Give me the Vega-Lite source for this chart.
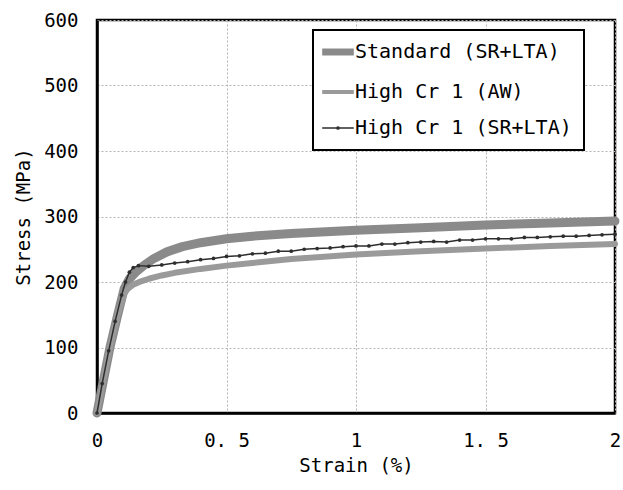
{
  "$schema": "https://vega.github.io/schema/vega-lite/v6.json",
  "width": 518,
  "height": 393,
  "autosize": "none",
  "padding": {"left": 97, "top": 20, "right": 8, "bottom": 77},
  "background": "white",
  "config": {
    "font": "DejaVu Sans Mono",
    "view": {"stroke": "black", "strokeWidth": 2.5},
    "legend": {"strokeWidth": 2},
    "axis": {
      "labelFont": "DejaVu Sans Mono",
      "titleFont": "DejaVu Sans Mono",
      "labelFontSize": 19,
      "titleFontSize": 19,
      "titleFontWeight": "normal",
      "labelColor": "black",
      "titleColor": "black",
      "ticks": false,
      "domainColor": "black",
      "domainWidth": 2.5,
      "gridColor": "#b5b5b5",
      "gridDash": [2, 2],
      "gridWidth": 1
    }
  },
  "data": {
    "values": [
      {"series": "Standard (SR+LTA)", "strain": 0, "stress": 0},
      {"series": "Standard (SR+LTA)", "strain": 0.025, "stress": 50},
      {"series": "Standard (SR+LTA)", "strain": 0.05, "stress": 100},
      {"series": "Standard (SR+LTA)", "strain": 0.08, "stress": 150},
      {"series": "Standard (SR+LTA)", "strain": 0.105, "stress": 190},
      {"series": "Standard (SR+LTA)", "strain": 0.125, "stress": 205},
      {"series": "Standard (SR+LTA)", "strain": 0.15, "stress": 215},
      {"series": "Standard (SR+LTA)", "strain": 0.18, "stress": 225},
      {"series": "Standard (SR+LTA)", "strain": 0.22, "stress": 236},
      {"series": "Standard (SR+LTA)", "strain": 0.27, "stress": 246},
      {"series": "Standard (SR+LTA)", "strain": 0.33, "stress": 254},
      {"series": "Standard (SR+LTA)", "strain": 0.4, "stress": 260},
      {"series": "Standard (SR+LTA)", "strain": 0.5, "stress": 266},
      {"series": "Standard (SR+LTA)", "strain": 0.6, "stress": 270},
      {"series": "Standard (SR+LTA)", "strain": 0.75, "stress": 274},
      {"series": "Standard (SR+LTA)", "strain": 1.0, "stress": 279},
      {"series": "Standard (SR+LTA)", "strain": 1.25, "stress": 283},
      {"series": "Standard (SR+LTA)", "strain": 1.5, "stress": 287},
      {"series": "Standard (SR+LTA)", "strain": 1.75, "stress": 290},
      {"series": "Standard (SR+LTA)", "strain": 2.0, "stress": 293},
      {"series": "High Cr 1 (AW)", "strain": 0, "stress": 0},
      {"series": "High Cr 1 (AW)", "strain": 0.025, "stress": 50},
      {"series": "High Cr 1 (AW)", "strain": 0.05, "stress": 100},
      {"series": "High Cr 1 (AW)", "strain": 0.08, "stress": 150},
      {"series": "High Cr 1 (AW)", "strain": 0.105, "stress": 182},
      {"series": "High Cr 1 (AW)", "strain": 0.12, "stress": 190},
      {"series": "High Cr 1 (AW)", "strain": 0.14, "stress": 196},
      {"series": "High Cr 1 (AW)", "strain": 0.17, "stress": 201},
      {"series": "High Cr 1 (AW)", "strain": 0.2, "stress": 205},
      {"series": "High Cr 1 (AW)", "strain": 0.25, "stress": 210},
      {"series": "High Cr 1 (AW)", "strain": 0.3, "stress": 214},
      {"series": "High Cr 1 (AW)", "strain": 0.4, "stress": 220},
      {"series": "High Cr 1 (AW)", "strain": 0.5, "stress": 225},
      {"series": "High Cr 1 (AW)", "strain": 0.6, "stress": 229},
      {"series": "High Cr 1 (AW)", "strain": 0.75, "stress": 235},
      {"series": "High Cr 1 (AW)", "strain": 1.0, "stress": 242},
      {"series": "High Cr 1 (AW)", "strain": 1.25, "stress": 247},
      {"series": "High Cr 1 (AW)", "strain": 1.5, "stress": 251},
      {"series": "High Cr 1 (AW)", "strain": 1.75, "stress": 255},
      {"series": "High Cr 1 (AW)", "strain": 2.0, "stress": 258},
      {"series": "High Cr 1 (SR+LTA)", "strain": 0, "stress": 0},
      {"series": "High Cr 1 (SR+LTA)", "strain": 0.02, "stress": 45},
      {"series": "High Cr 1 (SR+LTA)", "strain": 0.045, "stress": 95},
      {"series": "High Cr 1 (SR+LTA)", "strain": 0.07, "stress": 140},
      {"series": "High Cr 1 (SR+LTA)", "strain": 0.095, "stress": 180},
      {"series": "High Cr 1 (SR+LTA)", "strain": 0.11, "stress": 200},
      {"series": "High Cr 1 (SR+LTA)", "strain": 0.125, "stress": 215},
      {"series": "High Cr 1 (SR+LTA)", "strain": 0.14, "stress": 222},
      {"series": "High Cr 1 (SR+LTA)", "strain": 0.16, "stress": 225},
      {"series": "High Cr 1 (SR+LTA)", "strain": 0.2, "stress": 224},
      {"series": "High Cr 1 (SR+LTA)", "strain": 0.25, "stress": 226},
      {"series": "High Cr 1 (SR+LTA)", "strain": 0.3, "stress": 229},
      {"series": "High Cr 1 (SR+LTA)", "strain": 0.35, "stress": 231},
      {"series": "High Cr 1 (SR+LTA)", "strain": 0.4, "stress": 234},
      {"series": "High Cr 1 (SR+LTA)", "strain": 0.45, "stress": 236},
      {"series": "High Cr 1 (SR+LTA)", "strain": 0.5, "stress": 239},
      {"series": "High Cr 1 (SR+LTA)", "strain": 0.55, "stress": 240},
      {"series": "High Cr 1 (SR+LTA)", "strain": 0.6, "stress": 243},
      {"series": "High Cr 1 (SR+LTA)", "strain": 0.65, "stress": 244},
      {"series": "High Cr 1 (SR+LTA)", "strain": 0.7, "stress": 247},
      {"series": "High Cr 1 (SR+LTA)", "strain": 0.75, "stress": 247},
      {"series": "High Cr 1 (SR+LTA)", "strain": 0.8, "stress": 250},
      {"series": "High Cr 1 (SR+LTA)", "strain": 0.85, "stress": 251},
      {"series": "High Cr 1 (SR+LTA)", "strain": 0.9, "stress": 252},
      {"series": "High Cr 1 (SR+LTA)", "strain": 0.95, "stress": 254},
      {"series": "High Cr 1 (SR+LTA)", "strain": 1.0, "stress": 255},
      {"series": "High Cr 1 (SR+LTA)", "strain": 1.05, "stress": 255},
      {"series": "High Cr 1 (SR+LTA)", "strain": 1.1, "stress": 258},
      {"series": "High Cr 1 (SR+LTA)", "strain": 1.15, "stress": 258},
      {"series": "High Cr 1 (SR+LTA)", "strain": 1.2, "stress": 260},
      {"series": "High Cr 1 (SR+LTA)", "strain": 1.25, "stress": 261},
      {"series": "High Cr 1 (SR+LTA)", "strain": 1.3, "stress": 262},
      {"series": "High Cr 1 (SR+LTA)", "strain": 1.35, "stress": 261},
      {"series": "High Cr 1 (SR+LTA)", "strain": 1.4, "stress": 264},
      {"series": "High Cr 1 (SR+LTA)", "strain": 1.45, "stress": 264},
      {"series": "High Cr 1 (SR+LTA)", "strain": 1.5, "stress": 266},
      {"series": "High Cr 1 (SR+LTA)", "strain": 1.55, "stress": 266},
      {"series": "High Cr 1 (SR+LTA)", "strain": 1.6, "stress": 266},
      {"series": "High Cr 1 (SR+LTA)", "strain": 1.65, "stress": 268},
      {"series": "High Cr 1 (SR+LTA)", "strain": 1.7, "stress": 268},
      {"series": "High Cr 1 (SR+LTA)", "strain": 1.75, "stress": 269},
      {"series": "High Cr 1 (SR+LTA)", "strain": 1.8, "stress": 270},
      {"series": "High Cr 1 (SR+LTA)", "strain": 1.85, "stress": 270},
      {"series": "High Cr 1 (SR+LTA)", "strain": 1.9, "stress": 271},
      {"series": "High Cr 1 (SR+LTA)", "strain": 1.95, "stress": 272},
      {"series": "High Cr 1 (SR+LTA)", "strain": 2.0, "stress": 273}
    ]
  },
  "encoding": {
    "x": {
      "field": "strain", "type": "quantitative", "title": "Strain (%)",
      "scale": {"domain": [0, 2], "nice": false, "zero": true},
      "axis": {"values": [0, 0.5, 1, 1.5, 2], "labelExpr": "replace(format(datum.value, '~g'), '.', '. ')", "labelPadding": 18, "titlePadding": 6, "labelFlush": false}
    },
    "y": {
      "field": "stress", "type": "quantitative", "title": "Stress (MPa)",
      "scale": {"domain": [0, 600], "nice": false},
      "axis": {"values": [0, 100, 200, 300, 400, 500, 600], "labelPadding": 19, "titlePadding": 10, "labelFlush": false}
    },
    "color": {"field": "series", "type": "nominal", "title": null,
      "scale": {"domain": ["Standard (SR+LTA)", "High Cr 1 (AW)", "High Cr 1 (SR+LTA)"], "range": ["#8a8a8a", "#9a9a9a", "#2e2e2e"]},
      "legend": {
        "orient": "none", "legendX": 216, "legendY": 10,
        "symbolType": "stroke", "symbolSize": 1000, "symbolOffset": 3,
        "labelFont": "DejaVu Sans Mono", "labelFontSize": 20, "labelColor": "black",
        "labelLimit": 400,
        "labelOffset": 7, "rowPadding": 16, "padding": 12,
        "fillColor": "white", "strokeColor": "black",
        "encode": {
          "symbols": {
            "update": {
              "strokeWidth": {"signal": "datum.value === 'Standard (SR+LTA)' ? 7 : datum.value === 'High Cr 1 (AW)' ? 4 : 1.5"},
              "shape": {"signal": "datum.value === 'High Cr 1 (SR+LTA)' ? 'M-1,0H1M-0.07,0a0.07,0.07 0 1,0 0.14,0a0.07,0.07 0 1,0 -0.14,0' : 'stroke'"}
            }
          }
        }
      }
    }
  },
  "layer": [
    {
      "transform": [{"filter": "datum.series === 'Standard (SR+LTA)'"}],
      "mark": {"type": "line", "strokeCap": "round", "strokeJoin": "round", "strokeWidth": 9}
    },
    {
      "transform": [{"filter": "datum.series === 'High Cr 1 (AW)'"}],
      "mark": {"type": "line", "strokeCap": "round", "strokeJoin": "round", "strokeWidth": 6}
    },
    {
      "transform": [{"filter": "datum.series === 'High Cr 1 (SR+LTA)'"}],
      "mark": {"type": "line", "strokeJoin": "round", "strokeWidth": 1.5}
    },
    {
      "transform": [{"filter": "datum.series === 'High Cr 1 (SR+LTA)'"}],
      "mark": {"type": "point", "filled": true, "color": "#2e2e2e", "size": 14, "opacity": 1},
      "encoding": {"color": {"value": "#2e2e2e"}}
    }
  ]
}
